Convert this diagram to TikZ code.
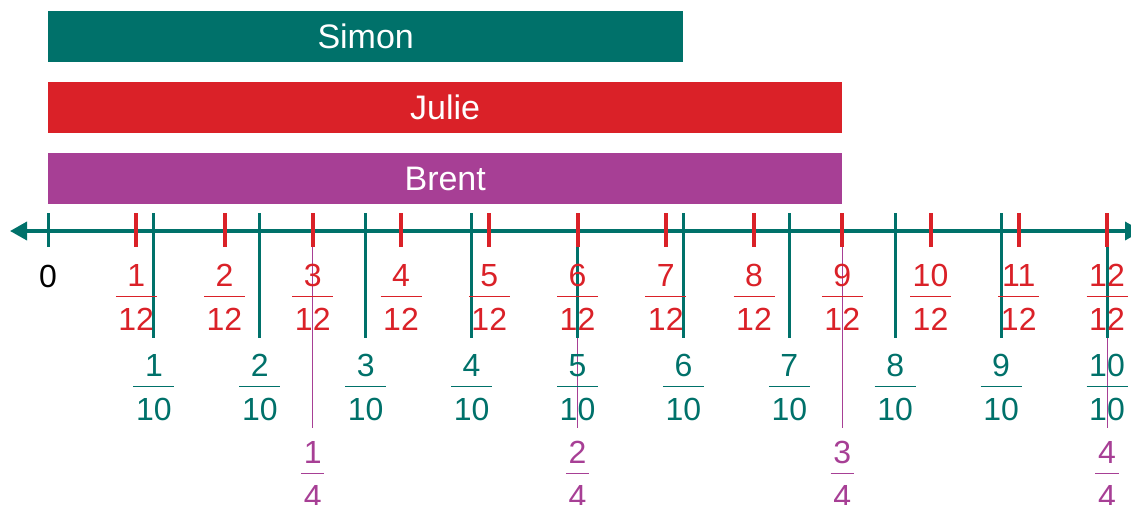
\documentclass[tikz,border=0pt]{standalone}
\usepackage{fontspec}
\setmainfont{Liberation Sans}
\usetikzlibrary{arrows.meta,positioning}
\definecolor{cG}{HTML}{00716A}
\definecolor{cR}{HTML}{DA2128}
\definecolor{cP}{HTML}{A73F95}
\tikzset{
  bar/.style={anchor=north west,inner sep=0pt,minimum height=51pt,
              text=white,font=\fontsize{34}{40}\selectfont},
  lab/.style={inner xsep=2.5pt,inner ysep=10pt,text height=23pt,text depth=0pt,
              font=\fontsize{32}{38}\selectfont},
  fbar/.style={#1,line width=1.2pt},
  axis/.style={cG,line width=3.5pt,
               {Triangle[length=17pt,width=18pt]}-{Triangle[length=17pt,width=18pt]}},
  gtick/.style={cG,line width=3pt},
  rtick/.style={cR,line width=4pt},
  ptick/.style={cP,line width=1pt},
}

\begin{document}
\begin{tikzpicture}[x=1pt,y=-1pt]
  \useasboundingbox (0,0) rectangle (1131,504);
  \clip (0,0) rectangle (1131,504);
  % the three bars
  \node[bar,fill=cG,minimum width=635pt] (simon) at (48,11) {Simon};
  \node[bar,fill=cR,minimum width=794pt] (julie) at (48,82) {Julie};
  \node[bar,fill=cP,minimum width=794pt] (brent) at (48,153) {Brent};
  % quarters
  \foreach \j in {1,...,4} {
    \pgfmathsetmacro\xx{48+\j*1059/4}
    \draw[ptick] (\xx,247) -- (\xx,428);
    \node[lab,text=cP] (p\j-d) at (\xx,495.5) {4};
    \node[lab,text=cP,above=0pt of p\j-d] (p\j-n) {\j};
    \draw[fbar=cP] (p\j-d.north west) -- (p\j-d.north east);
  }
  % tenths
  \foreach \k in {1,...,10} {
    \pgfmathsetmacro\xx{48+\k*1059/10}
    \draw[gtick] (\xx,213) -- (\xx,338);
    \node[lab,text=cG] (g\k-d) at (\xx,408.5) {10};
    \node[lab,text=cG,above=0pt of g\k-d] (g\k-n) {\k};
    \draw[fbar=cG] (g\k-d.north west) -- (g\k-d.north east);
  }
  % number line
  \coordinate (axl) at (10,231);
  \coordinate (axr) at (1142,231);
  \draw[axis] (axl) -- (axr);
  \draw[gtick] (48,213) -- (48,247);
  \node[lab] (zero) at (48,276) {0};
  % twelfths
  \foreach \n in {1,...,12} {
    \pgfmathsetmacro\xx{48+\n*1059/12}
    \draw[rtick] (\xx,213) -- (\xx,247);
    \node[lab,text=cR] (r\n-d) at (\xx,318.5) {12};
    \node[lab,text=cR,above=0pt of r\n-d] (r\n-n) {\n};
    \draw[fbar=cR] (r\n-d.north west) -- (r\n-d.north east);
  }
\end{tikzpicture}
\end{document}
